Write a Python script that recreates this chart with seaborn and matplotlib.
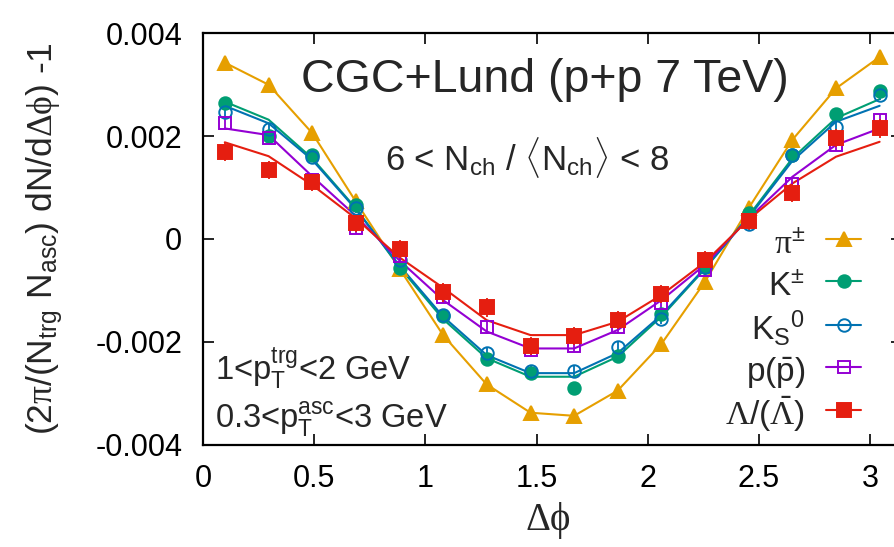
import numpy as np
import pandas as pd
import matplotlib
matplotlib.use("Agg")
import matplotlib.pyplot as plt
from matplotlib.lines import Line2D
from matplotlib.ticker import FixedLocator, FixedFormatter
import seaborn as sns

# ---------------- data ----------------
dphi = [0.098, 0.295, 0.491, 0.687, 0.884, 1.080, 1.276, 1.473,
        1.669, 1.865, 2.062, 2.258, 2.454, 2.651, 2.847, 3.043]

species = ["pi", "Kpm", "KS", "p", "Lam"]
labels = [r"$\mathsf{\pi}^{\pm}$", r"K$^{\pm}$", r"K$_{\rm S}{}^{0}$",
          r"p($\bar{\rm p}$)", r"$\mathsf{\Lambda}$/($\bar{\mathsf{\Lambda}}$)"]

# data points
pi_pts = [0.00343, 0.00300, 0.00206, 0.00073, -0.00058, -0.00187, -0.00283, -0.00338,
          -0.00344, -0.00295, -0.00204, -0.00083, 0.00060, 0.00193, 0.00293, 0.00354]
kpm_pts = [0.00265, 0.00200, 0.00163, 0.00066, -0.00057, -0.00150, -0.00234, -0.00260,
           -0.00289, -0.00228, -0.00145, -0.00054, 0.00050, 0.00163, 0.00243, 0.00287]
ks_pts = [0.00246, 0.00214, 0.00160, 0.00060, -0.00041, -0.00148, -0.00221, -0.00257,
          -0.00257, -0.00211, -0.00156, -0.00054, 0.00030, 0.00163, 0.00218, 0.00280]
p_pts = [0.00226, 0.00196, 0.00115, 0.00021, -0.00033, -0.00113, -0.00172, -0.00216,
         -0.00208, -0.00172, -0.00125, -0.00060, 0.00037, 0.00107, 0.00183, 0.00232]
lam_pts = [0.00170, 0.00134, 0.00111, 0.00031, -0.00020, -0.00104, -0.00133, -0.00208,
           -0.00189, -0.00158, -0.00107, -0.00041, 0.00035, 0.00089, 0.00196, 0.00215]

# statistical errors
pi_err = [0.00003] * 16
kpm_err = [0.00005] * 16
ks_err = [0.00010] * 16
p_err = [0.00012] * 16
lam_err = [0.00018] * 16

# model curves
pi_line = pi_pts
kpm_line = [0.00267, 0.00232, 0.00157, 0.00060, -0.00055, -0.00156, -0.00232, -0.00268,
            -0.00268, -0.00229, -0.00151, -0.00058, 0.00045, 0.00157, 0.00235, 0.00272]
ks_line = [0.00259, 0.00225, 0.00154, 0.00058, -0.00052, -0.00151, -0.00226, -0.00261,
           -0.00261, -0.00222, -0.00148, -0.00056, 0.00042, 0.00152, 0.00228, 0.00259]
p_line = [0.00215, 0.00202, 0.00122, 0.00045, -0.00042, -0.00119, -0.00180, -0.00213,
          -0.00213, -0.00177, -0.00119, -0.00050, 0.00040, 0.00121, 0.00183, 0.00215]
lam_line = [0.00188, 0.00161, 0.00105, 0.00040, -0.00036, -0.00095, -0.00158, -0.00187,
            -0.00187, -0.00161, -0.00109, -0.00045, 0.00038, 0.00108, 0.00160, 0.00189]

xticks = [0, 0.5, 1, 1.5, 2, 2.5, 3]
xticklabels = ["0", "0.5", "1", "1.5", "2", "2.5", "3"]
yticks = [-0.004, -0.002, 0, 0.002, 0.004]
yticklabels = ["-0.004", "-0.002", "0", "0.002", "0.004"]

# ---------------- style ----------------
colors = {"pi": "#E69F00", "Kpm": "#009E73", "KS": "#0072B2", "p": "#9400D3", "Lam": "#E51E10"}
markers = {"pi": "^", "Kpm": "o", "KS": "o", "p": "s", "Lam": "s"}
mfill = {"pi": True, "Kpm": True, "KS": False, "p": False, "Lam": True}
msize = {"pi": 10, "Kpm": 9, "KS": 9, "p": 9.2, "Lam": 9.4}

sns.set_style("ticks")
plt.rcParams["font.family"] = ["Liberation Sans", "DejaVu Sans"]
plt.rcParams["mathtext.fontset"] = "custom"
plt.rcParams["mathtext.rm"] = "Liberation Sans"
plt.rcParams["mathtext.it"] = "Liberation Sans"
plt.rcParams["mathtext.bf"] = "Liberation Sans:bold"
plt.rcParams["mathtext.sf"] = "Liberation Serif"
plt.rcParams["axes.unicode_minus"] = False

fig = plt.figure(figsize=(8.95, 5.47), dpi=100)
ax = fig.add_axes([0.2268, 0.1872, 0.7805, 0.7519])

pts = {"pi": pi_pts, "Kpm": kpm_pts, "KS": ks_pts, "p": p_pts, "Lam": lam_pts}
errs = {"pi": pi_err, "Kpm": kpm_err, "KS": ks_err, "p": p_err, "Lam": lam_err}
curves = {"pi": pi_line, "Kpm": kpm_line, "KS": ks_line, "p": p_line, "Lam": lam_line}

df_lines = pd.concat([pd.DataFrame({"dphi": dphi, "val": curves[s], "species": s}) for s in species],
                     ignore_index=True)

for s in species:
    sub = df_lines[df_lines["species"] == s]
    sns.lineplot(data=sub, x="dphi", y="val", color=colors[s], lw=1.5,
                 estimator=None, sort=False, ax=ax, legend=False)
    c = colors[s]
    ax.errorbar(dphi, pts[s], yerr=errs[s], fmt=markers[s], color=c, ms=msize[s],
                mfc=c if mfill[s] else "none", mec=c, mew=1.4, elinewidth=1.3,
                capsize=0, zorder=3)

ax.set_xlim(0, np.pi)
ax.set_ylim(-0.004, 0.004)
ax.xaxis.set_major_locator(FixedLocator(xticks))
ax.xaxis.set_major_formatter(FixedFormatter(xticklabels))
ax.yaxis.set_major_locator(FixedLocator(yticks))
ax.yaxis.set_major_formatter(FixedFormatter(yticklabels))
ax.tick_params(direction="in", length=8, width=1.2, top=True, right=True,
               labelsize=22, colors="black")
ax.tick_params(axis="y", pad=15)
ax.tick_params(axis="x", pad=14)
for sp in ax.spines.values():
    sp.set_linewidth(1.6)
    sp.set_color("black")

ax.set_xlabel("\u0394\u03d5", fontsize=28, family=["Liberation Serif", "DejaVu Serif"])
ax.xaxis.set_label_coords(0.494, -0.14)
ax.set_ylabel(r"(2$\mathsf{\pi}$/(N$_{\rm trg}$ N$_{\rm asc}$) dN/d$\mathsf{\Delta\phi}$) -1", fontsize=25.5)
ax.yaxis.set_label_coords(-0.198, 0.5)

ax.text(0.49, 0.8865, "CGC+Lund (p+p 7 TeV)", transform=ax.transAxes, ha="center", va="center",
        fontsize=33.5)
ax.text(0.464, 0.697, r"6 < N$_{\rm ch}$ / $\langle$N$_{\rm ch}\rangle$ < 8", transform=ax.transAxes,
        ha="center", va="center", fontsize=25)
ax.text(0.0172, 0.1595, r"1<p$_{\rm T}^{\rm trg}$<2 GeV", transform=ax.transAxes,
        ha="left", va="baseline", fontsize=23.5)
ax.text(0.0172, 0.0404, r"0.3<p$_{\rm T}^{\rm asc}$<3 GeV", transform=ax.transAxes,
        ha="left", va="baseline", fontsize=23.5)

handles = [Line2D([], [], color=colors[s], lw=1.5, marker=markers[s], ms=msize[s],
                  mfc=colors[s] if mfill[s] else "none", mec=colors[s], mew=1.4)
           for s in species]
ax.legend(handles, labels, loc="upper right", bbox_to_anchor=(0.942, 0.537), frameon=False,
          markerfirst=False, handlelength=1.05, handletextpad=0.63, handleheight=1.4,
          labelspacing=0.11, borderpad=0, borderaxespad=0, fontsize=24, numpoints=1)

fig.savefig("out.png", dpi=100)
